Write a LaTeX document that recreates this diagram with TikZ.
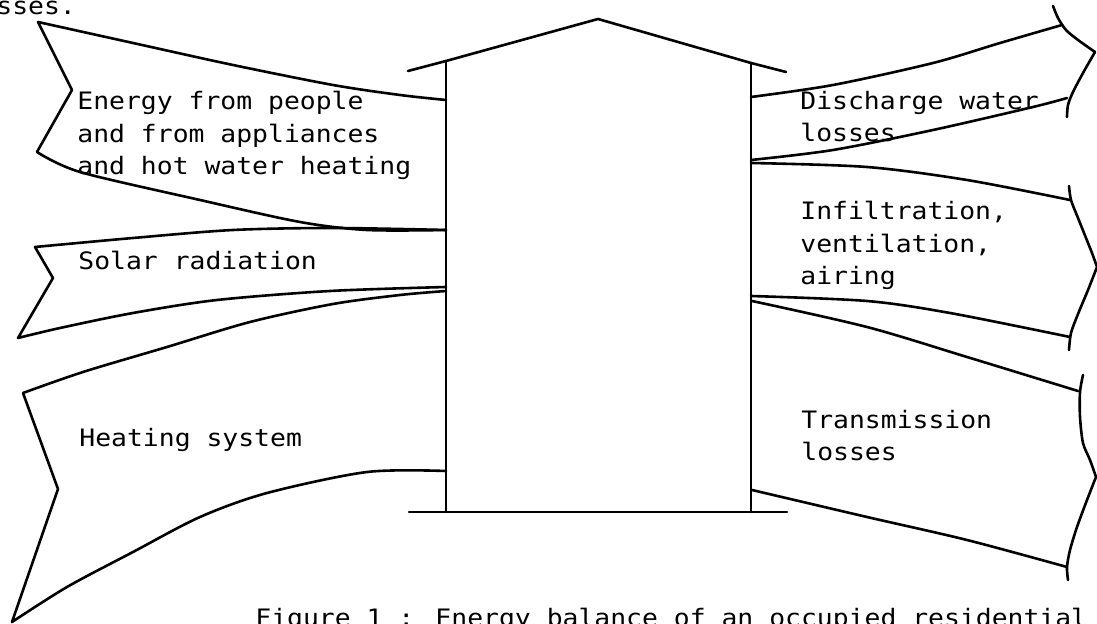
\documentclass[tikz,border=0pt]{standalone}
\usepackage{fontspec}
\newfontfamily\tw[FakeStretch=1.1]{DejaVu Sans Mono}
\begin{document}
\begin{tikzpicture}[x=0.5pt,y=-0.5pt,
  edge/.style={line width=1.3pt, line join=round, line cap=round},
  lbl/.style={font=\tw\fontsize{12}{16.25}\selectfont, align=left, inner sep=0pt, anchor=base west}]
\useasboundingbox (0,0) rectangle (1097,624);

% house
\coordinate (roofL) at (408,71);
\coordinate (eaveL) at (446,61);
\coordinate (peak) at (598,19);
\coordinate (eaveR) at (751,63);
\coordinate (roofR) at (786,72);
\coordinate (baseL) at (446,512);
\coordinate (baseR) at (751,512);
\coordinate (gndL) at (409,512);
\coordinate (gndR) at (787,512);
\draw[edge] (roofL) -- (eaveL) -- (peak) -- (eaveR) -- (roofR);
\draw[edge] (eaveL) -- (baseL);
\draw[edge] (eaveR) -- (baseR);
\draw[edge] (gndL) -- (gndR);

% incoming: energy from people
\draw[edge] plot[smooth,tension=0.5] coordinates {(446,100) (400,95) (333,85) (233,65) (133,43) (38,22)}
  -- (72,90) -- (37,152)
  -- plot[smooth,tension=0.5] coordinates {(37,152) (80,172) (200,200) (300,222) (367,230) (446,230)};
% incoming: solar radiation
\draw[edge] plot[smooth,tension=0.5] coordinates {(446,230) (333,228) (233,230) (133,238) (35,247)}
  -- (53,278) -- (18,338)
  -- plot[smooth,tension=0.5] coordinates {(18,338) (60,328) (133,313) (217,300) (330,291) (446,287)};
% incoming: heating system
\draw[edge] plot[smooth,tension=0.5] coordinates {(446,291) (400,295) (333,304) (250,322) (167,347) (83,372) (23,393)}
  -- (58,489) -- (12,622)
  -- plot[smooth,tension=0.5] coordinates {(12,622) (67,587) (133,552) (200,517) (267,493) (367,472) (446,471)};

% outgoing: discharge water losses
\draw[edge] plot[smooth,tension=0.5] coordinates {(751,97) (833,85) (933,63) (1000,43) (1062,25)};
\draw[edge] plot[smooth,tension=0.5] coordinates {(751,160) (833,150) (933,130) (1033,107) (1067,98)};
\draw[edge] plot[smooth,tension=0.5] coordinates {(1053,6) (1058,18) (1066,30) (1078,40) (1095,52)}
  -- plot[smooth,tension=0.5] coordinates {(1095,52) (1083,73) (1073,92) (1068,105) (1067,117)};
% outgoing: infiltration
\draw[edge] plot[smooth,tension=0.5] coordinates {(751,163) (867,167) (967,180) (1070,200)};
\draw[edge] plot[smooth,tension=0.5] coordinates {(751,296) (867,301) (950,313) (1070,337)};
\draw[edge] plot[smooth,tension=0.5] coordinates {(1069,186) (1071,200) (1078,218) (1086,238) (1092,253) (1097,267)}
  -- plot[smooth,tension=0.5] coordinates {(1097,267) (1088,290) (1078,314) (1071,333) (1069,350)};
% outgoing: transmission
\draw[edge] plot[smooth,tension=0.5] coordinates {(752,301) (867,327) (967,357) (1078,391)};
\draw[edge] plot[smooth,tension=0.5] coordinates {(752,490) (867,517) (967,540) (1067,567)};
\draw[edge] plot[smooth,tension=0.5] coordinates {(1083,375) (1080,392) (1080,417) (1083,443) (1090,460) (1096,477)}
  -- plot[smooth,tension=0.5] coordinates {(1096,477) (1087,500) (1077,527) (1070,550) (1067,567) (1068,580)};

% labels (multi-line nodes: base is the last line)
\node[lbl] (tEnergy) at (77,175) {Energy from people\\and from appliances\\and hot water heating};
\node[lbl] (tSolar) at (78,270) {Solar radiation};
\node[lbl] (tHeat) at (79,447) {Heating system};
\node[lbl] (tDisch) at (800,142) {Discharge water\\losses};
\node[lbl] (tInf) at (800,285) {Infiltration,\\ventilation,\\airing};
\node[lbl] (tTrans) at (801,461) {Transmission\\losses};
\node[lbl] (tCap) at (255,626) {Figure 1 : Energy balance of an occupied residential};
\node[lbl] (tTop) at (-4,15) {sses.};
\end{tikzpicture}
\end{document}
